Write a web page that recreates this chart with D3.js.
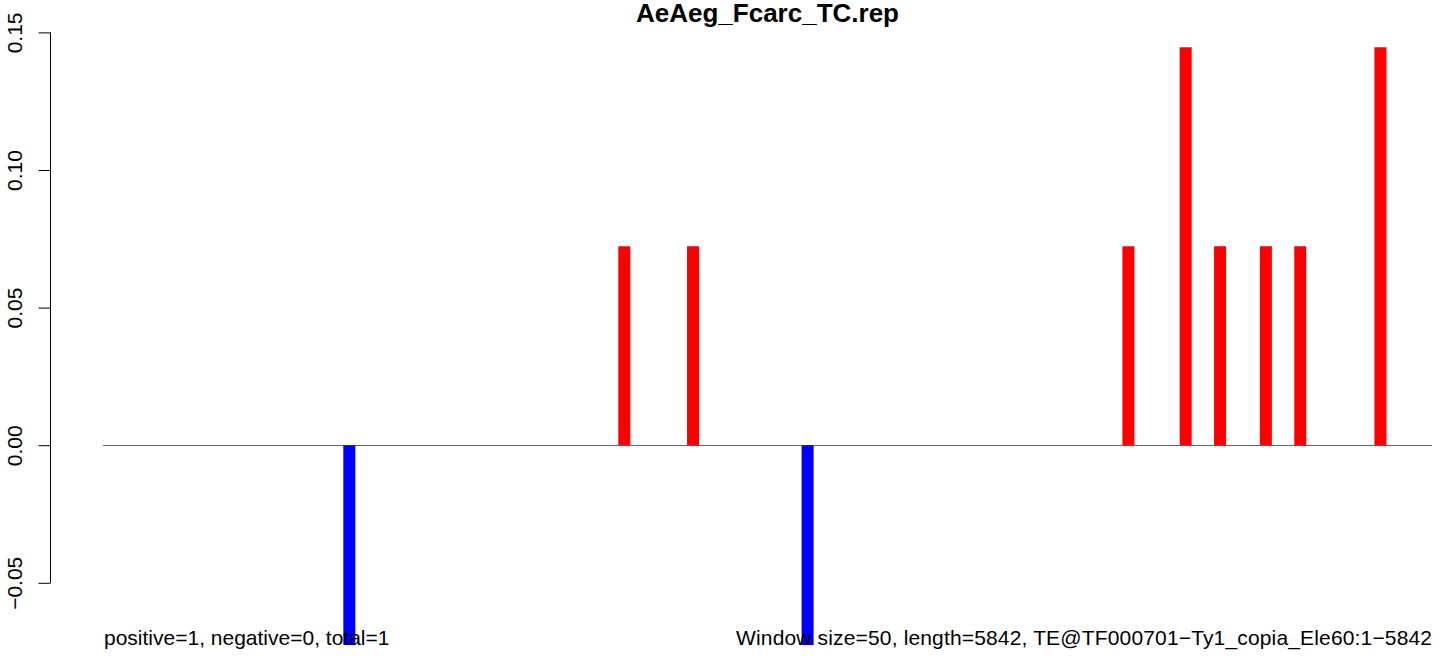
<!DOCTYPE html>
<html>
<head>
<meta charset="utf-8">
<script src="https://cdn.jsdelivr.net/npm/d3@7"></script>
<style>
  html, body { margin: 0; padding: 0; background: #fff; }
  svg { display: block; }
  text { font-family: "Liberation Sans", Arial, Helvetica, sans-serif; }
</style>
</head>
<body>
<script>
// ---- data ----
const chartTitle = "AeAeg_Fcarc_TC.rep";
const windowMid = [1075, 2275, 2575, 3075, 4475, 4725, 4875, 5075, 5225, 5575]; // bp (window centres)
const scoreValues = [-0.0726, 0.0723, 0.0723, -0.0726, 0.0723, 0.1446, 0.0723, 0.0723, 0.0723, 0.1446];
const yTickValues = [-0.05, 0.00, 0.05, 0.10, 0.15];
const xDomain = [0, 5800];
const yDomain = [-0.0726, 0.1528];
const leftNote = "positive=1, negative=0, total=1";
const rightNote = "Window size=50, length=5842, TE@TF000701\u2212Ty1_copia_Ele60:1\u22125842";

// ---- layout ----
const W = 1444, H = 656;
const plot = { left: 103, right: 1432, top: 24.7, bottom: 645 };

const svg = d3.select("body").append("svg").attr("width", W).attr("height", H);

const x = d3.scaleLinear().domain(xDomain).range([plot.left, plot.right]);
const y = d3.scaleLinear().domain(yDomain).range([plot.bottom, plot.top]);

svg.append("defs").append("clipPath").attr("id", "plotclip")
  .append("rect")
  .attr("x", plot.left - 20).attr("y", plot.top)
  .attr("width", plot.right - plot.left + 40).attr("height", plot.bottom - plot.top);

// zero line
svg.append("line")
  .attr("x1", plot.left).attr("x2", plot.right)
  .attr("y1", Math.round(y(0)) + 0.5).attr("y2", Math.round(y(0)) + 0.5)
  .attr("stroke", "#666").attr("stroke-width", 1);

// bars
const barW = 12;
svg.append("g").attr("clip-path", "url(#plotclip)")
  .selectAll("rect")
  .data(windowMid.map((m, i) => ({ m, v: scoreValues[i] })))
  .join("rect")
  .attr("x", d => x(d.m) - barW / 2)
  .attr("width", barW)
  .attr("y", d => Math.min(y(d.v), y(0)))
  .attr("height", d => Math.abs(y(d.v) - y(0)))
  .attr("fill", d => d.v >= 0 ? "#FF0000" : "#0000FF");

// y axis
const axisX = 50;
const yAxis = d3.axisLeft(y)
  .tickValues(yTickValues)
  .tickFormat(d3.format(".2f"))
  .tickSize(12)
  .tickPadding(0);
const gy = svg.append("g").attr("transform", `translate(${axisX + 0.5},0)`).call(yAxis);
gy.select(".domain").remove();
gy.selectAll(".tick line").attr("stroke", "#000").attr("stroke-width", 1);
gy.selectAll(".tick text")
  .attr("x", null).attr("dy", null)
  .attr("transform", "translate(-28.5,0) rotate(-90)")
  .attr("text-anchor", "middle")
  .attr("fill", "#000")
  .style("font-size", "21px")
  .style("font-family", "'Liberation Sans', Arial, sans-serif");
gy.append("line")
  .attr("x1", 0).attr("x2", 0)
  .attr("y1", y(yTickValues[0])).attr("y2", y(yTickValues[yTickValues.length - 1]))
  .attr("stroke", "#000").attr("stroke-width", 1);

// title
svg.append("text")
  .attr("x", (plot.left + plot.right) / 2)
  .attr("y", 22)
  .attr("text-anchor", "middle")
  .style("font-size", "26px")
  .style("font-weight", "bold")
  .text(chartTitle);

// bottom notes
svg.append("text")
  .attr("x", 104).attr("y", 645)
  .style("font-size", "21px")
  .text(leftNote);
svg.append("text")
  .attr("x", 736).attr("y", 645)
  .attr("textLength", 696)
  .attr("lengthAdjust", "spacing")
  .style("font-size", "21px")
  .text(rightNote);
</script>
</body>
</html>
